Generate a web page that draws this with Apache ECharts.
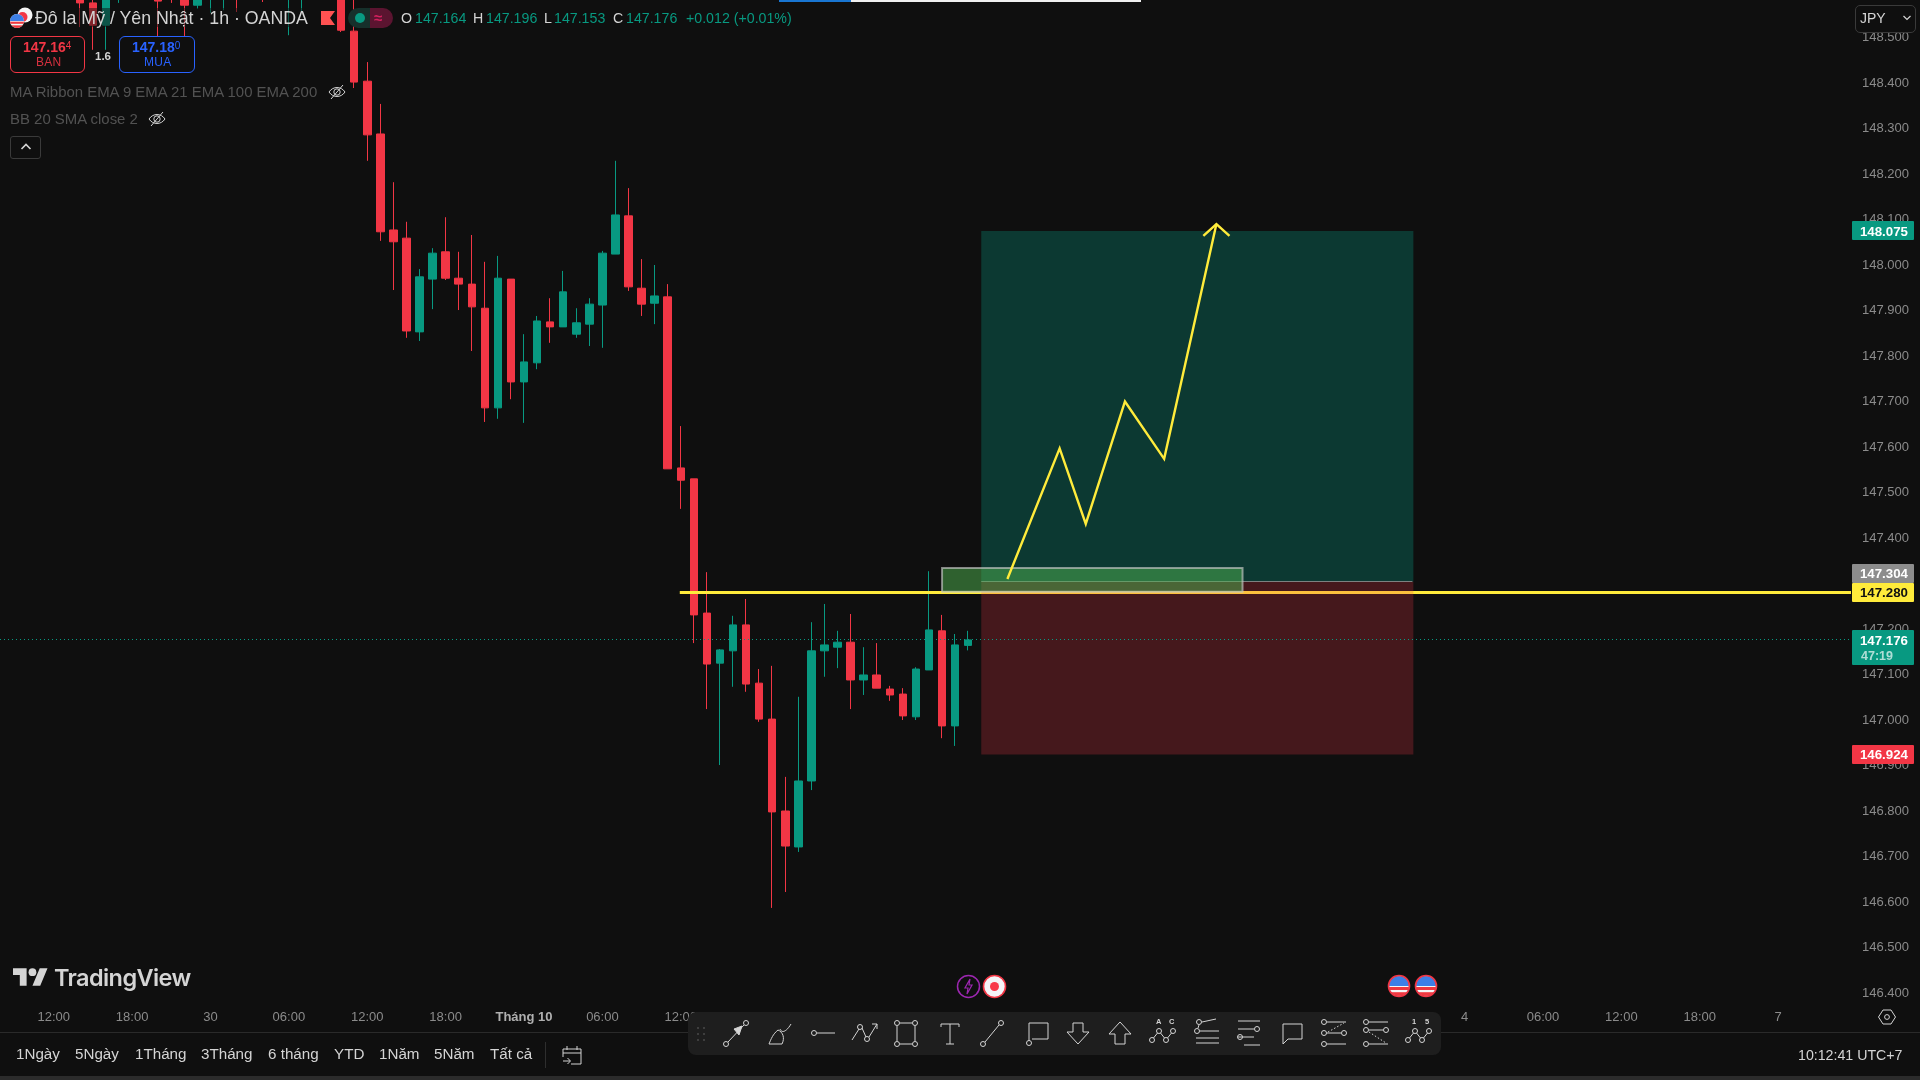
<!DOCTYPE html>
<html><head><meta charset="utf-8"><title>USD/JPY</title>
<script src="https://cdn.jsdelivr.net/npm/echarts@6/dist/echarts.min.js"></script>
<style>
html,body{margin:0;padding:0;background:#0f0f0f;width:1920px;height:1080px;overflow:hidden;font-family:"Liberation Sans",Arial,sans-serif}
#c{position:absolute;left:0;top:0;width:1920px;height:1080px}
#ui{position:absolute;left:0;top:0;width:1920px;height:1080px;pointer-events:none}
#ui>*{position:absolute}
.t{white-space:nowrap;line-height:20px;height:20px}
.b{box-sizing:border-box;border-radius:6px;border:1.5px solid;text-align:center}
sup{font-size:10px;vertical-align:3px;line-height:0;font-weight:400}
</style></head><body>
<div id="c"></div><div id="ui"></div>
<script>
const barCount = 141;
const tickBars = [3,9,15,21,27,33,39,45,51,57,63,69,75,81,87,93,99,105,111,117,123,129,135];
const tickLabels = ['12:00','18:00','30','06:00','12:00','18:00','Tháng 10','06:00','12:00','18:00','2','06:00','12:00','18:00','3','06:00','12:00','18:00','4','06:00','12:00','18:00','7'];
const firstBar = 5;
// open, close, low, high
const ohlc = [
[148.615,148.576,148.523,148.637],[148.576,148.527,148.473,148.593],[148.527,148.600,148.473,148.615],[148.604,148.637,148.576,148.648],
[148.637,148.609,148.593,148.655],[148.609,148.640,148.596,148.655],[148.609,148.580,148.503,148.630],[148.610,148.596,148.576,148.625],
[148.609,148.571,148.503,148.640],[148.571,148.604,148.563,148.625],[148.589,148.615,148.554,148.630],[148.592,148.620,148.560,148.640],
[148.625,148.595,148.556,148.640],[148.595,148.615,148.590,148.630],[148.620,148.595,148.578,148.640],[148.595,148.625,148.592,148.640],
[148.593,148.620,148.505,148.640],[148.595,148.625,148.556,148.640],[148.650,148.625,148.600,148.665],[148.660,148.640,148.610,148.680],
[148.650,148.516,148.512,148.670],[148.514,148.402,148.389,148.593],[148.404,148.286,148.229,148.446],[148.288,148.073,148.053,148.354],
[148.077,148.051,147.945,148.182],[148.059,147.855,147.840,148.095],[147.853,147.974,147.833,147.991],[147.969,148.026,147.903,148.037],
[148.029,147.971,147.967,148.105],[147.971,147.958,147.901,148.029],[147.958,147.908,147.811,148.066],[147.905,147.686,147.655,148.007],
[147.686,147.971,147.662,148.020],[147.969,147.743,147.705,147.969],[147.743,147.787,147.653,147.848],[147.785,147.877,147.771,147.888],
[147.875,147.864,147.829,147.927],[147.864,147.941,147.864,147.987],[147.848,147.873,147.840,147.905],[147.870,147.914,147.822,147.927],
[147.912,148.026,147.818,148.031],[148.024,148.110,148.024,148.229],[148.108,147.952,147.943,148.169],[147.949,147.914,147.888,148.013],
[147.916,147.932,147.870,148.000],[147.930,147.552,147.552,147.958],[147.554,147.527,147.464,147.646],[147.530,147.231,147.169,147.530],
[147.235,147.123,147.024,147.325],[147.125,147.154,146.901,147.156],[147.152,147.209,147.073,147.229],[147.209,147.079,147.062,147.266],
[147.081,147.002,146.996,147.112],[147.002,146.798,146.587,147.119],[146.800,146.723,146.622,146.875],[146.721,146.866,146.710,147.051],
[146.866,147.152,146.846,147.215],[147.152,147.165,147.095,147.255],[147.160,147.171,147.114,147.196],[147.171,147.088,147.024,147.233],
[147.088,147.099,147.055,147.160],[147.099,147.070,147.070,147.169],[147.068,147.055,147.042,147.075],[147.057,147.009,147.000,147.070],
[147.007,147.112,147.000,147.116],[147.110,147.198,147.110,147.327],[147.196,146.987,146.960,147.231],[146.987,147.165,146.943,147.189],
[147.164,147.176,147.153,147.196]
];
const lastPrice = 147.176;
const levelPrice = 147.280;
const levelStartBar = 51;
const longStartBar = 74, longEndBar = 107;
const targetPrice = 148.075, entryPrice = 147.304, stopPrice = 146.924;
const zoneBars = [71,94];
const zonePrices = [147.334,147.282];
const pathBars = [76,80,82,85,88,92];
const pathPrices = [147.310,147.597,147.431,147.700,147.574,148.090];
const arrowBars = [91,93];
const arrowPrice = 148.064;
const yMin = 146.4, yMax = 148.6, yStep = 0.1;

const UP='#089981', DOWN='#F23645', YEL='#FFEB3B';
const categories = new Array(barCount).fill('');
tickBars.forEach((b,i)=>categories[b]=tickLabels[i]);
const candleData = new Array(barCount).fill('-').map((_,i)=>{
  const r = ohlc[i-firstBar]; return r ? r : ['-','-','-','-'];
});
function overlay(z,render){return {type:'custom',z:z,silent:true,data:[[0,0]],renderItem:render,animation:false,clip:false};}
function priceTag(value,bg,fg,extra,shift){
  return overlay(10,(p,api)=>{
    const y=api.coord([0,value])[1]+(shift||0), x=p.coordSys.x+p.coordSys.width+2;
    const kids=[{type:'rect',shape:{x:x,y:Math.round(y-9.5),width:62,height:extra?35:19,r:1},style:{fill:bg}},
      {type:'text',style:{x:x+56,y:y+1,text:value.toFixed(3),fill:fg,font:'bold 13.3px "Liberation Sans"',textAlign:'right',textVerticalAlign:'middle'}}];
    if(extra)kids.push({type:'text',style:{x:x+9,y:y+17,text:extra,fill:'rgba(255,255,255,.68)',font:'bold 12.5px "Liberation Sans"',textAlign:'left',textVerticalAlign:'middle'}});
    return {type:'group',children:kids};
  });
}
const chart = echarts.init(document.getElementById('c'),null,{width:1920,height:1080,renderer:'canvas'});
chart.setOption({
  animation:false,backgroundColor:'#0f0f0f',
  grid:{left:8,right:70,top:-8,bottom:87,containLabel:false,outerBoundsMode:'none'},
  xAxis:{type:'category',data:categories,boundaryGap:true,axisLine:{show:false},axisTick:{show:false},splitLine:{show:false},
    axisLabel:{interval:0,margin:18,fontSize:13,fontFamily:'Liberation Sans',color:'#8b8b8b',hideOverlap:false,
      formatter:v=>v==='Tháng 10'?'{b|'+v+'}':v,rich:{b:{fontWeight:'bold',fontSize:13,color:'#b0b0b0',fontFamily:'Liberation Sans'}}}},
  yAxis:{type:'value',position:'right',min:yMin,max:yMax,interval:yStep,axisLine:{show:false},axisTick:{show:false},splitLine:{show:false},
    axisLabel:{margin:12,fontSize:13,padding:[2,0,0,0],fontFamily:'Liberation Sans',color:'#8b8b8b',formatter:v=>v.toFixed(3)}},
  series:[
    {type:'candlestick',z:2,data:candleData,barWidth:8,clip:false,
      itemStyle:{color:UP,color0:DOWN,borderColor:UP,borderColor0:DOWN,borderWidth:1}},
    overlay(3,(p,api)=>{const a=api.coord([levelStartBar,levelPrice]);
      return {type:'line',shape:{x1:a[0]-1,y1:a[1],x2:p.coordSys.x+p.coordSys.width+1,y2:a[1]},style:{stroke:YEL,lineWidth:3}};}),
    overlay(4,(p,api)=>{
      const a=api.coord([longStartBar,targetPrice]),b=api.coord([longEndBar,entryPrice]),c=api.coord([longEndBar,stopPrice]);
      return {type:'group',children:[
        {type:'rect',shape:{x:a[0],y:a[1],width:b[0]-a[0]+1,height:b[1]-a[1]},style:{fill:'rgba(8,153,129,.31)'}},
        {type:'rect',shape:{x:a[0],y:b[1],width:b[0]-a[0]+1,height:c[1]-b[1]},style:{fill:'rgba(242,54,69,.24)'}},
        {type:'line',shape:{x1:a[0],y1:Math.round(b[1])-.5,x2:b[0],y2:Math.round(b[1])-.5},style:{stroke:'rgba(150,150,150,.8)',lineWidth:1}}
      ]};}),
    overlay(5,(p,api)=>{
      const a=api.coord([zoneBars[0],zonePrices[0]]),b=api.coord([zoneBars[1],zonePrices[1]]);
      return {type:'rect',shape:{x:a[0],y:a[1],width:b[0]-a[0],height:b[1]-a[1]},
        style:{fill:'rgba(80,180,80,.5)',stroke:'rgba(200,200,200,.65)',lineWidth:2}};}),
    overlay(6,(p,api)=>{
      const pts=pathBars.map((b,i)=>api.coord([b,pathPrices[i]]));
      const l=api.coord([arrowBars[0],arrowPrice]),r=api.coord([arrowBars[1],arrowPrice]),tip=pts[pts.length-1];
      const st={stroke:YEL,lineWidth:2.4,fill:null};
      return {type:'group',children:[{type:'polyline',shape:{points:pts},style:st},{type:'polyline',shape:{points:[l,tip,r]},style:st}]};}),
    overlay(6,(p,api)=>{const y=api.coord([0,lastPrice])[1];
      return {type:'line',shape:{x1:0,y1:Math.round(y)-.5,x2:p.coordSys.x+p.coordSys.width,y2:Math.round(y)-.5},
        style:{stroke:UP,lineWidth:1,lineDash:[1,3]}};}),
    priceTag(targetPrice,UP,'#fff'),
    priceTag(entryPrice,'#8c8c8c','#fff',null,-8),
    priceTag(levelPrice,YEL,'#111'),
    priceTag(lastPrice,UP,'#fff','47:19'),
    priceTag(stopPrice,DOWN,'#fff')
  ]
});

// ---------- TradingView chrome ----------
const ui=document.getElementById('ui');
function add(h){ui.insertAdjacentHTML('beforeend',h);}
function txt(x,yc,s,size,col,extra){add(`<div class="t" style="left:${x}px;top:${yc-10}px;font-size:${size}px;color:${col};${extra||''}">${s}</div>`);}
function box(x,y,w,h,st){add(`<div style="left:${x}px;top:${y}px;width:${w}px;height:${h}px;${st}"></div>`);}
function svg(x,y,w,h,inner,vb){add(`<svg style="left:${x}px;top:${y}px" width="${w}" height="${h}" viewBox="${vb||('0 0 '+w+' '+h)}" fill="none" stroke="#d4d4d4" stroke-width="1">${inner}</svg>`);}

box(779,0,72,2,'background:#1976d2');box(851,0,290,2,'background:#f0f0f0');
box(30,8,290,19,'background:rgba(15,15,15,.5)');
const flag=(cx,cy,r,ring)=>`<svg style="left:${cx-r-2}px;top:${cy-r-2}px" width="${2*r+4}" height="${2*r+4}" viewBox="-${r+2} -${r+2} ${2*r+4} ${2*r+4}"><defs><clipPath id="f${cx}"><circle r="${r}"/></clipPath></defs><g clip-path="url(#f${cx})"><rect x="-${r}" y="-${r}" width="${2*r}" height="${2*r}" fill="#f5f5f5"/><rect x="-${r}" y="${r*0.1}" width="${2*r}" height="${r*.3}" fill="#f0383f"/><rect x="-${r}" y="${r*0.62}" width="${2*r}" height="${r*.4}" fill="#f0383f"/><rect x="-${r}" y="-${r}" width="${2*r}" height="${r}" fill="#3d7fe6"/></g>${ring?`<circle r="${r+.5}" fill="none" stroke="#f23645" stroke-width="1.6"/>`:''}</svg>`;
add(`<svg style="left:16px;top:6px" width="18" height="18" viewBox="0 0 18 18"><circle cx="9" cy="9" r="7.5" fill="#f5f5f5"/><circle cx="6.5" cy="11" r="5" fill="#f23645"/></svg>`);
add(flag(17,21,7,false));
txt(35,18,'Đô la Mỹ / Yên Nhật · 1h · OANDA',17.75,'#d4d4d4');
add(`<svg style="left:321px;top:11px" width="14" height="14" viewBox="0 0 14 14"><path d="M0 0H14L9 7L14 14H0Z" fill="#ff5252" stroke="none"/></svg>`);
box(348,8,22,20,'background:#16302b;border-radius:10px 0 0 10px');
box(370,8,23,20,'background:#5b1430;border-radius:0 10px 10px 0');
box(355,13,10,10,'background:#089981;border-radius:50%');
txt(374,18,'≈',15,'#d4205e','font-weight:bold');
const ohlcText=[[401,'O','#d4d4d4'],[415,'147.164',UP],[473,'H','#d4d4d4'],[486,'147.196',UP],[544,'L','#d4d4d4'],[554,'147.153',UP],[613,'C','#d4d4d4'],[626,'147.176',UP],[686,'+0.012 (+0.01%)',UP]];
ohlcText.forEach(o=>txt(o[0],18,o[1],14.2,o[2]));

add(`<div class="b" style="left:10px;top:36px;width:75px;height:37px;border-color:#f23645"></div>`);
txt(23,47,'147.16<sup>4</sup>',14,'#f23645','font-weight:bold');
txt(36,62,'BAN',12,'#d6303f','letter-spacing:.3px');
txt(95,56,'1.6',11.5,'#d4d4d4','font-weight:bold');
add(`<div class="b" style="left:119px;top:36px;width:76px;height:37px;border-color:#2962ff"></div>`);
txt(132,47,'147.18<sup>0</sup>',14,'#2962ff','font-weight:bold');
txt(144,62,'MUA',12,'#2962ff','letter-spacing:.3px');

txt(10,92,'MA Ribbon EMA 9 EMA 21 EMA 100 EMA 200',14.95,'#525252');
txt(10,119,'BB 20 SMA close 2',14.95,'#525252');
const eye='<path d="M1 9C5 3 13 3 17 9C13 15 5 15 1 9Z"/><circle cx="9" cy="9" r="3.2"/><path d="M3 16L15 2"/>';
svg(328,83,18,18,eye);svg(148,110,18,18,eye);
add(`<div style="left:10px;top:136px;width:31px;height:23px;box-sizing:border-box;border:1px solid #3a3a3a;border-radius:3px"></div>`);
svg(20,142,12,10,'<path d="M1.5 7L6 2.5L10.5 7" stroke-width="1.6"/>');

box(1855,5,61,28,'box-sizing:border-box;background:#0f0f0f;border:1px solid #3a3a3a;border-radius:5px');
txt(1860,18,'JPY',14,'#d4d4d4');
svg(1902,14,10,8,'<path d="M1.5 2L5 5.5L8.5 2" stroke-width="1.2"/>');

// logo
add(`<svg style="left:13px;top:968px" width="35" height="18" viewBox="0 7 36 18"><path fill="#d4d4d4" stroke="none" d="M14 25H7V14H0V7h14v18zM28 25h-8l7.5-18h8L28 25z"/><circle fill="#d4d4d4" stroke="none" cx="20" cy="11" r="4"/></svg>`);
txt(54,976,'TradingView',23.5,'#d4d4d4','font-family:Inter,Roboto,sans-serif;font-weight:600;letter-spacing:-.6px;line-height:24px');

// event badges
add(`<svg style="left:956px;top:974px" width="25" height="25" viewBox="0 0 25 25"><circle cx="12.5" cy="12.5" r="11" stroke="#9c27b0" stroke-width="1.5" fill="#0f0f0f"/><path d="M14 5L9 14H12L11 20L16 11H13Z" fill="none" stroke="#9c27b0" stroke-width="1.2"/></svg>`);
add(`<svg style="left:982px;top:974px" width="25" height="25" viewBox="0 0 25 25"><circle cx="12.5" cy="12.5" r="11" stroke="#f23645" stroke-width="1.6" fill="#f4f4f8"/><circle cx="12.5" cy="12.5" r="4.5" fill="#f8384a"/></svg>`);
add(flag(1399,986,10,true));add(flag(1426,986,10,true));

// borders
box(0,1032,1920,1,'background:#2a2a2a');
box(0,1076,1920,4,'background:#2b2b2b');
box(545,1042,1,26,'background:#2e2e2e');

// range bar
const ranges=[[16,'1Ngày'],[75,'5Ngày'],[135,'1Tháng'],[201,'3Tháng'],[268,'6 tháng'],[334,'YTD'],[379,'1Năm'],[434,'5Năm'],[490,'Tất cả']];
ranges.forEach(r=>txt(r[0],1054,r[1],15.2,'#d4d4d4'));
svg(560,1043,24,23,'<path d="M3 6H21V21H11M3 6V14M3 10H21M7 3V7M17 3V7M3 18H10M7.5 15L10.5 18L7.5 21"/>');
txt(1798,1054.5,'10:12:41 UTC+7',14.2,'#d4d4d4');
svg(1878,1008,18,18,'<path d="M5 2H13L17.5 9L13 16H5L.5 9Z"/><circle cx="9" cy="9" r="2.4"/>');

// drawing toolbar
box(695,1006,746,8,'background:#0f0f0f');
box(688,1012,753,43,'background:#1e1e1e;border-radius:8px');
const c=(x,y,r)=>`<circle cx="${x}" cy="${y}" r="${r||2.5}"/>`;
const icons=[
[736,c(6,27)+c(26,6)+'<path d="M8 25L24 8"/><path d="M22 9L14 12L19 18Z" fill="#d4d4d4"/>'],
[780,'<path d="M5 27H18C21 21 19 15 14 13C9 17 7 22 5 27Z"/><path d="M16 12C18 17 23 14 27 7"/>'],
[823,c(7,16)+'<path d="M10 16H28"/>'],
[865,'<path d="M3 23L10 12"/>'+c(11,10)+'<path d="M13 11L17 20"/>'+c(18,22)+'<path d="M20 20L28 7M23 7H28V12"/>'],
[906,c(7,6)+c(25,6)+c(7,27)+c(25,27)+'<path d="M10 6H22M10 27H22M7 9V24M25 9V24"/>'],
[950,'<path d="M7 7H25M16 7V27M12 27H20M7 7V10M25 7V10"/>'],
[992,c(7,27)+c(25,6)+'<path d="M9 25L23 8"/>'],
[1037,'<path d="M8 24V6H27V22H11"/>'+c(8,26)],
[1078,'<path d="M11 6H21V15H27L16 27L5 15H11Z"/>'],
[1120,'<path d="M11 27H21V17H27L16 5L5 17H11Z"/>'],
[1163,c(5,23)+c(12,14)+c(19,23)+c(26,14)+'<path d="M6.5 21L10.5 16M13.5 16L17.5 21M20.5 21L24.5 16"/><text x="9" y="7" fill="#d4d4d4" stroke="none" font-size="7.5" font-weight="bold">A</text><text x="22" y="7" fill="#d4d4d4" stroke="none" font-size="7.5" font-weight="bold">C</text>'],
[1207,c(8,5)+c(6,14)+'<path d="M11 5L25 2M7 11L8 8M9 14H28M5 21H28M5 26H28" />'],
[1248,'<path d="M6 4H28M6 12H22M6 20H22M12 28H28"/>'+c(25,12)+c(8,20)],
[1292,'<path d="M7 27V7H26V22H12L7 27Z"/>'],
[1334,c(6,5)+c(6,16)+c(6,27)+c(26,16)+'<path d="M9 5H28M9 16H23M9 27H28"/><path d="M10 15L26 6" stroke-dasharray="1.5 2"/>'],
[1376,c(6,5)+c(6,13)+c(26,13)+c(6,27)+'<path d="M9 5H28M9 13H23M9 27H28"/><path d="M9 15L26 26" stroke-dasharray="1.5 2"/>'],
[1419,c(5,23)+c(12,14)+c(19,23)+c(26,14)+'<path d="M6.5 21L10.5 16M13.5 16L17.5 21M20.5 21L24.5 16"/><text x="9" y="7" fill="#d4d4d4" stroke="none" font-size="7.5" font-weight="bold">1</text><text x="22" y="7" fill="#d4d4d4" stroke="none" font-size="7.5" font-weight="bold">5</text>']
];
icons.forEach(i=>svg(i[0]-16,1017,32,32,i[1]));
add(`<svg style="left:696px;top:1026px" width="10" height="16" viewBox="0 0 10 16" fill="#4a4a4a"><circle cx="2" cy="2" r="1"/><circle cx="8" cy="2" r="1"/><circle cx="2" cy="8" r="1"/><circle cx="8" cy="8" r="1"/><circle cx="2" cy="14" r="1"/><circle cx="8" cy="14" r="1"/></svg>`);
</script>
</body></html>
